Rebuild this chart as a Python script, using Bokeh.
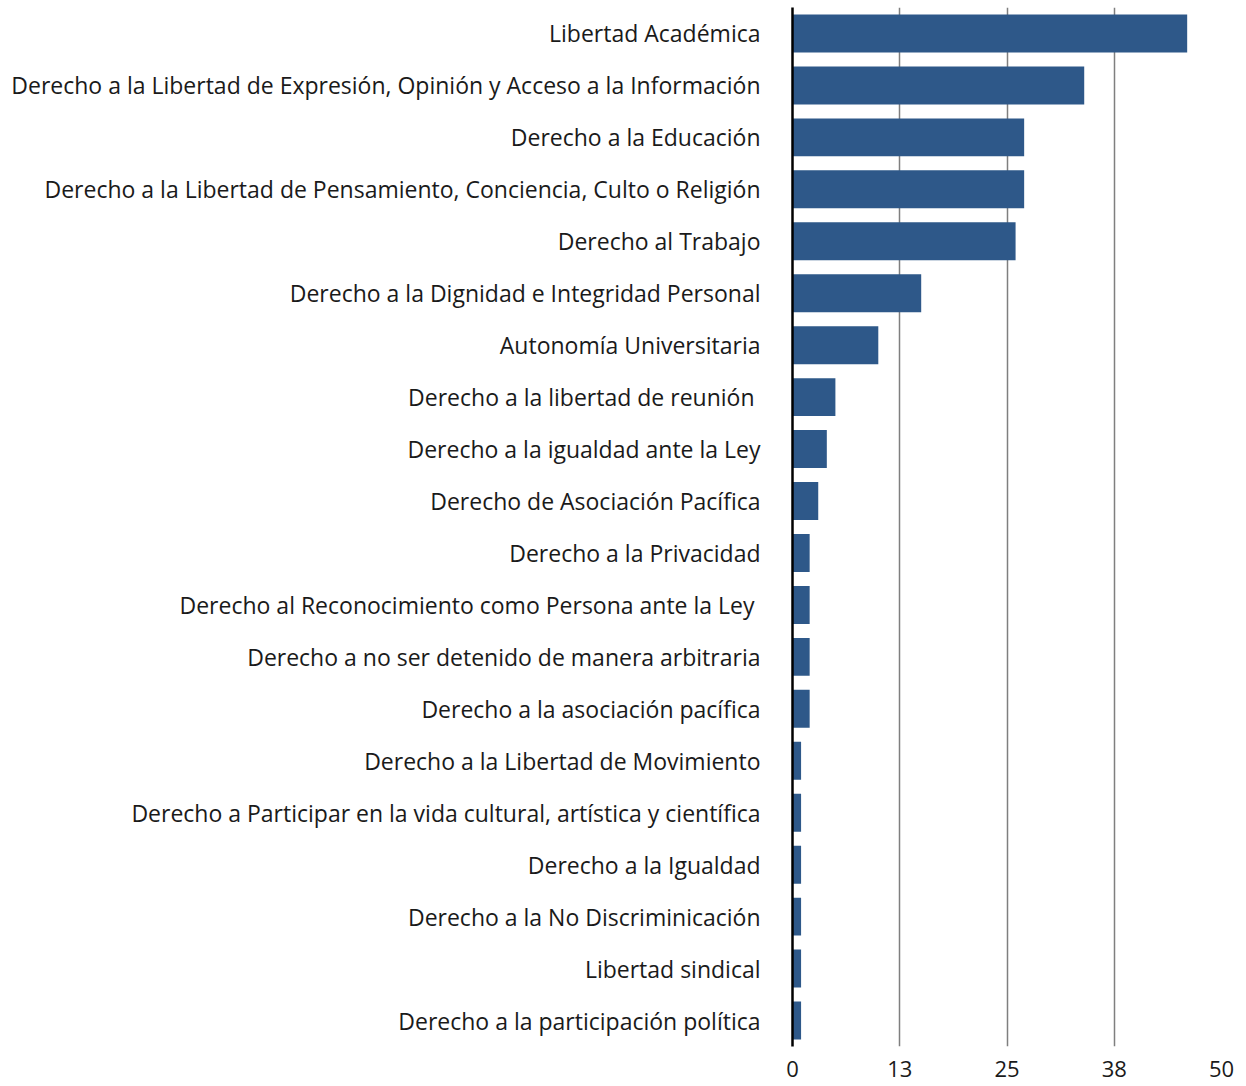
from bokeh.plotting import figure
from bokeh.models import FactorRange, FixedTicker, CustomJSTickFormatter, Range1d
from bokeh.embed import file_html
from bokeh.resources import INLINE

categories = [
    "Libertad Académica",
    "Derecho a la Libertad de Expresión, Opinión y Acceso a la Información",
    "Derecho a la Educación",
    "Derecho a la Libertad de Pensamiento, Conciencia, Culto o Religión",
    "Derecho al Trabajo",
    "Derecho a la Dignidad e Integridad Personal",
    "Autonomía Universitaria",
    "Derecho a la libertad de reunión ",
    "Derecho a la igualdad ante la Ley",
    "Derecho de Asociación Pacífica",
    "Derecho a la Privacidad",
    "Derecho al Reconocimiento como Persona ante la Ley ",
    "Derecho a no ser detenido de manera arbitraria",
    "Derecho a la asociación pacífica",
    "Derecho a la Libertad de Movimiento",
    "Derecho a Participar en la vida cultural, artística y científica",
    "Derecho a la Igualdad",
    "Derecho a la No Discriminicación",
    "Libertad sindical",
    "Derecho a la participación política",
]
values = [46, 34, 27, 27, 26, 15, 10, 5, 4, 3, 2, 2, 2, 2, 1, 1, 1, 1, 1, 1]
x_ticks = [0, 12.5, 25, 37.5, 50]

FONT = "Open Sans"

p = figure(
    width=1240, height=1086,
    y_range=FactorRange(*reversed(categories), range_padding=0),
    x_range=Range1d(0, 50),
    output_backend="svg", toolbar_location=None,
    min_border_left=792, min_border_right=19, min_border_top=7, min_border_bottom=40,
)
p.hbar(y=categories, right=values, left=0, height=0.73, color="#2e5889", line_color=None)

p.outline_line_color = None
p.ygrid.grid_line_color = None
p.xgrid.grid_line_color = "#7f7f7f"
p.xgrid.grid_line_width = 1.5
p.xaxis.ticker = FixedTicker(ticks=x_ticks)
p.xaxis.formatter = CustomJSTickFormatter(code="return Math.round(tick).toString();")
p.xaxis.axis_line_color = None
p.xaxis.major_tick_line_color = None
p.xaxis.minor_tick_line_color = None
p.xaxis.major_label_text_font = FONT
p.xaxis.major_label_text_font_size = "22px"
p.xaxis.major_label_text_color = "#1a1a1a"
p.xaxis.major_label_standoff = 8

p.yaxis.axis_line_color = "black"
p.yaxis.axis_line_width = 2.5
p.yaxis.major_tick_line_color = None
p.yaxis.minor_tick_line_color = None
p.yaxis.major_label_text_font = FONT
p.yaxis.major_label_text_font_size = "23px"
p.yaxis.major_label_text_color = "#1a1a1a"
p.yaxis.major_label_standoff = 26

open("out.html", "w").write(file_html(p, INLINE))
